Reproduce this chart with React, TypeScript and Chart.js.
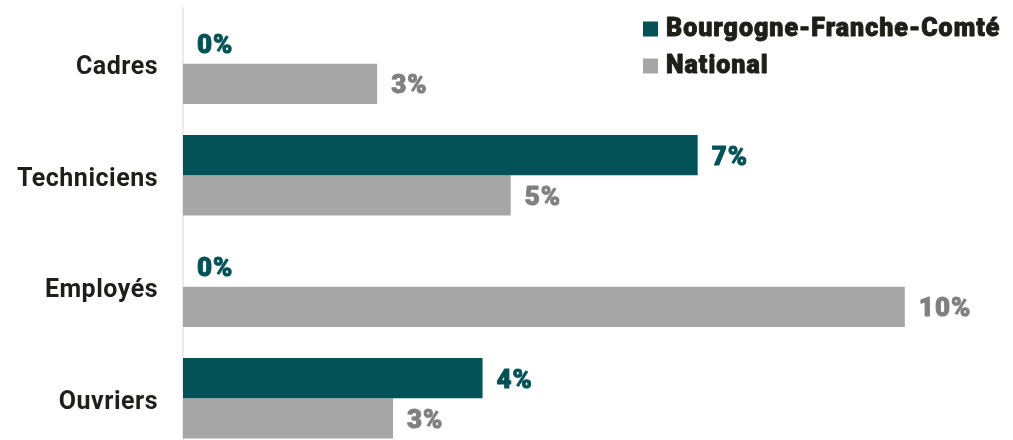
import React, { useEffect, useRef } from "react";
import { Chart, registerables } from "chart.js";

Chart.register(...registerables);

const categories = ["Cadres", "Techniciens", "Employés", "Ouvriers"];
const seriesNames = ["Bourgogne-Franche-Comté", "National"];
const bfcValues = [0, 7.13, 0, 4.15];
const nationalValues = [2.69, 4.54, 10.0, 2.91];

const TEAL = "#035257";
const GREY = "#a6a6a6";
const GREY_LABEL = "#808080";
const DARK = "#1f1e19";

const textSpacing = {
  id: "textSpacing",
  beforeDraw(chart: any) {
    chart.ctx.letterSpacing = "0.5px";
  },
};

const valueLabels = {
  id: "valueLabels",
  afterDatasetsDraw(chart: any) {
    const ctx = chart.ctx;
    ctx.save();
    ctx.font = "900 26px Roboto";
    ctx.letterSpacing = "1px";
    ctx.textBaseline = "middle";
    ctx.textAlign = "left";
    ctx.lineWidth = 0.9;
    ctx.lineJoin = "round";
    chart.data.datasets.forEach((ds: any, i: number) => {
      const meta = chart.getDatasetMeta(i);
      const c = i === 0 ? TEAL : GREY_LABEL;
      ctx.fillStyle = c;
      ctx.strokeStyle = c;
      meta.data.forEach((el: any, j: number) => {
        const v = ds.data[j];
        const t = Math.round(v) + "%";
        ctx.fillText(t, el.x + 14, el.y + 3);
        ctx.strokeText(t, el.x + 14, el.y + 3);
      });
    });
    ctx.restore();
  },
};

const customLegend = {
  id: "customLegend",
  afterDraw(chart: any) {
    const ctx = chart.ctx;
    ctx.save();
    const colors = [TEAL, GREY];
    const rows = [29, 66];
    ctx.font = "900 25px Roboto";
    ctx.letterSpacing = "1px";
    ctx.textBaseline = "middle";
    ctx.textAlign = "left";
    ctx.lineWidth = 0.9;
    ctx.lineJoin = "round";
    seriesNames.forEach((name, i) => {
      ctx.fillStyle = colors[i];
      ctx.fillRect(643, rows[i] - 7.5, 15, 15);
      ctx.fillStyle = DARK;
      ctx.strokeStyle = DARK;
      ctx.fillText(name, 666, rows[i] + 1);
      ctx.strokeText(name, 666, rows[i] + 1);
    });
    ctx.restore();
  },
};

export default function App() {
  const ref = useRef<HTMLCanvasElement | null>(null);
  useEffect(() => {
    if (!ref.current) return;
    const chart = new Chart(ref.current, {
      type: "bar",
      data: {
        labels: categories,
        datasets: [
          { label: seriesNames[0], data: bfcValues, backgroundColor: TEAL },
          { label: seriesNames[1], data: nationalValues, backgroundColor: GREY },
        ],
      },
      options: {
        indexAxis: "y",
        animation: false,
        responsive: false,
        devicePixelRatio: 1,
        layout: { padding: { top: 8, bottom: 0, left: 0, right: 36 } },
        datasets: { bar: { categoryPercentage: 0.72, barPercentage: 1.0 } },
        plugins: { legend: { display: false }, tooltip: { enabled: false } },
        scales: {
          x: { display: false, min: 0, max: 11 },
          y: {
            grid: { display: false, drawTicks: true, tickLength: 25 },
            border: { display: true, color: "#ebebeb", width: 2 },
            ticks: {
              color: DARK,
              font: { family: "Roboto", size: 25, weight: "bold" },
              padding: 0,
              labelOffset: 4,
            },
            afterFit: (scale: any) => {
              scale.width = 183;
              scale.paddingTop = 0;
              scale.paddingBottom = 0;
            },
          },
        },
      },
      plugins: [textSpacing, valueLabels, customLegend],
    });
    return () => chart.destroy();
  }, []);
  return (
    <div style={{ position: "fixed", left: 0, top: 0, width: 1013, height: 454, background: "#fff" }}>
      <canvas ref={ref} width={1013} height={454} style={{ display: "block" }} />
    </div>
  );
}
